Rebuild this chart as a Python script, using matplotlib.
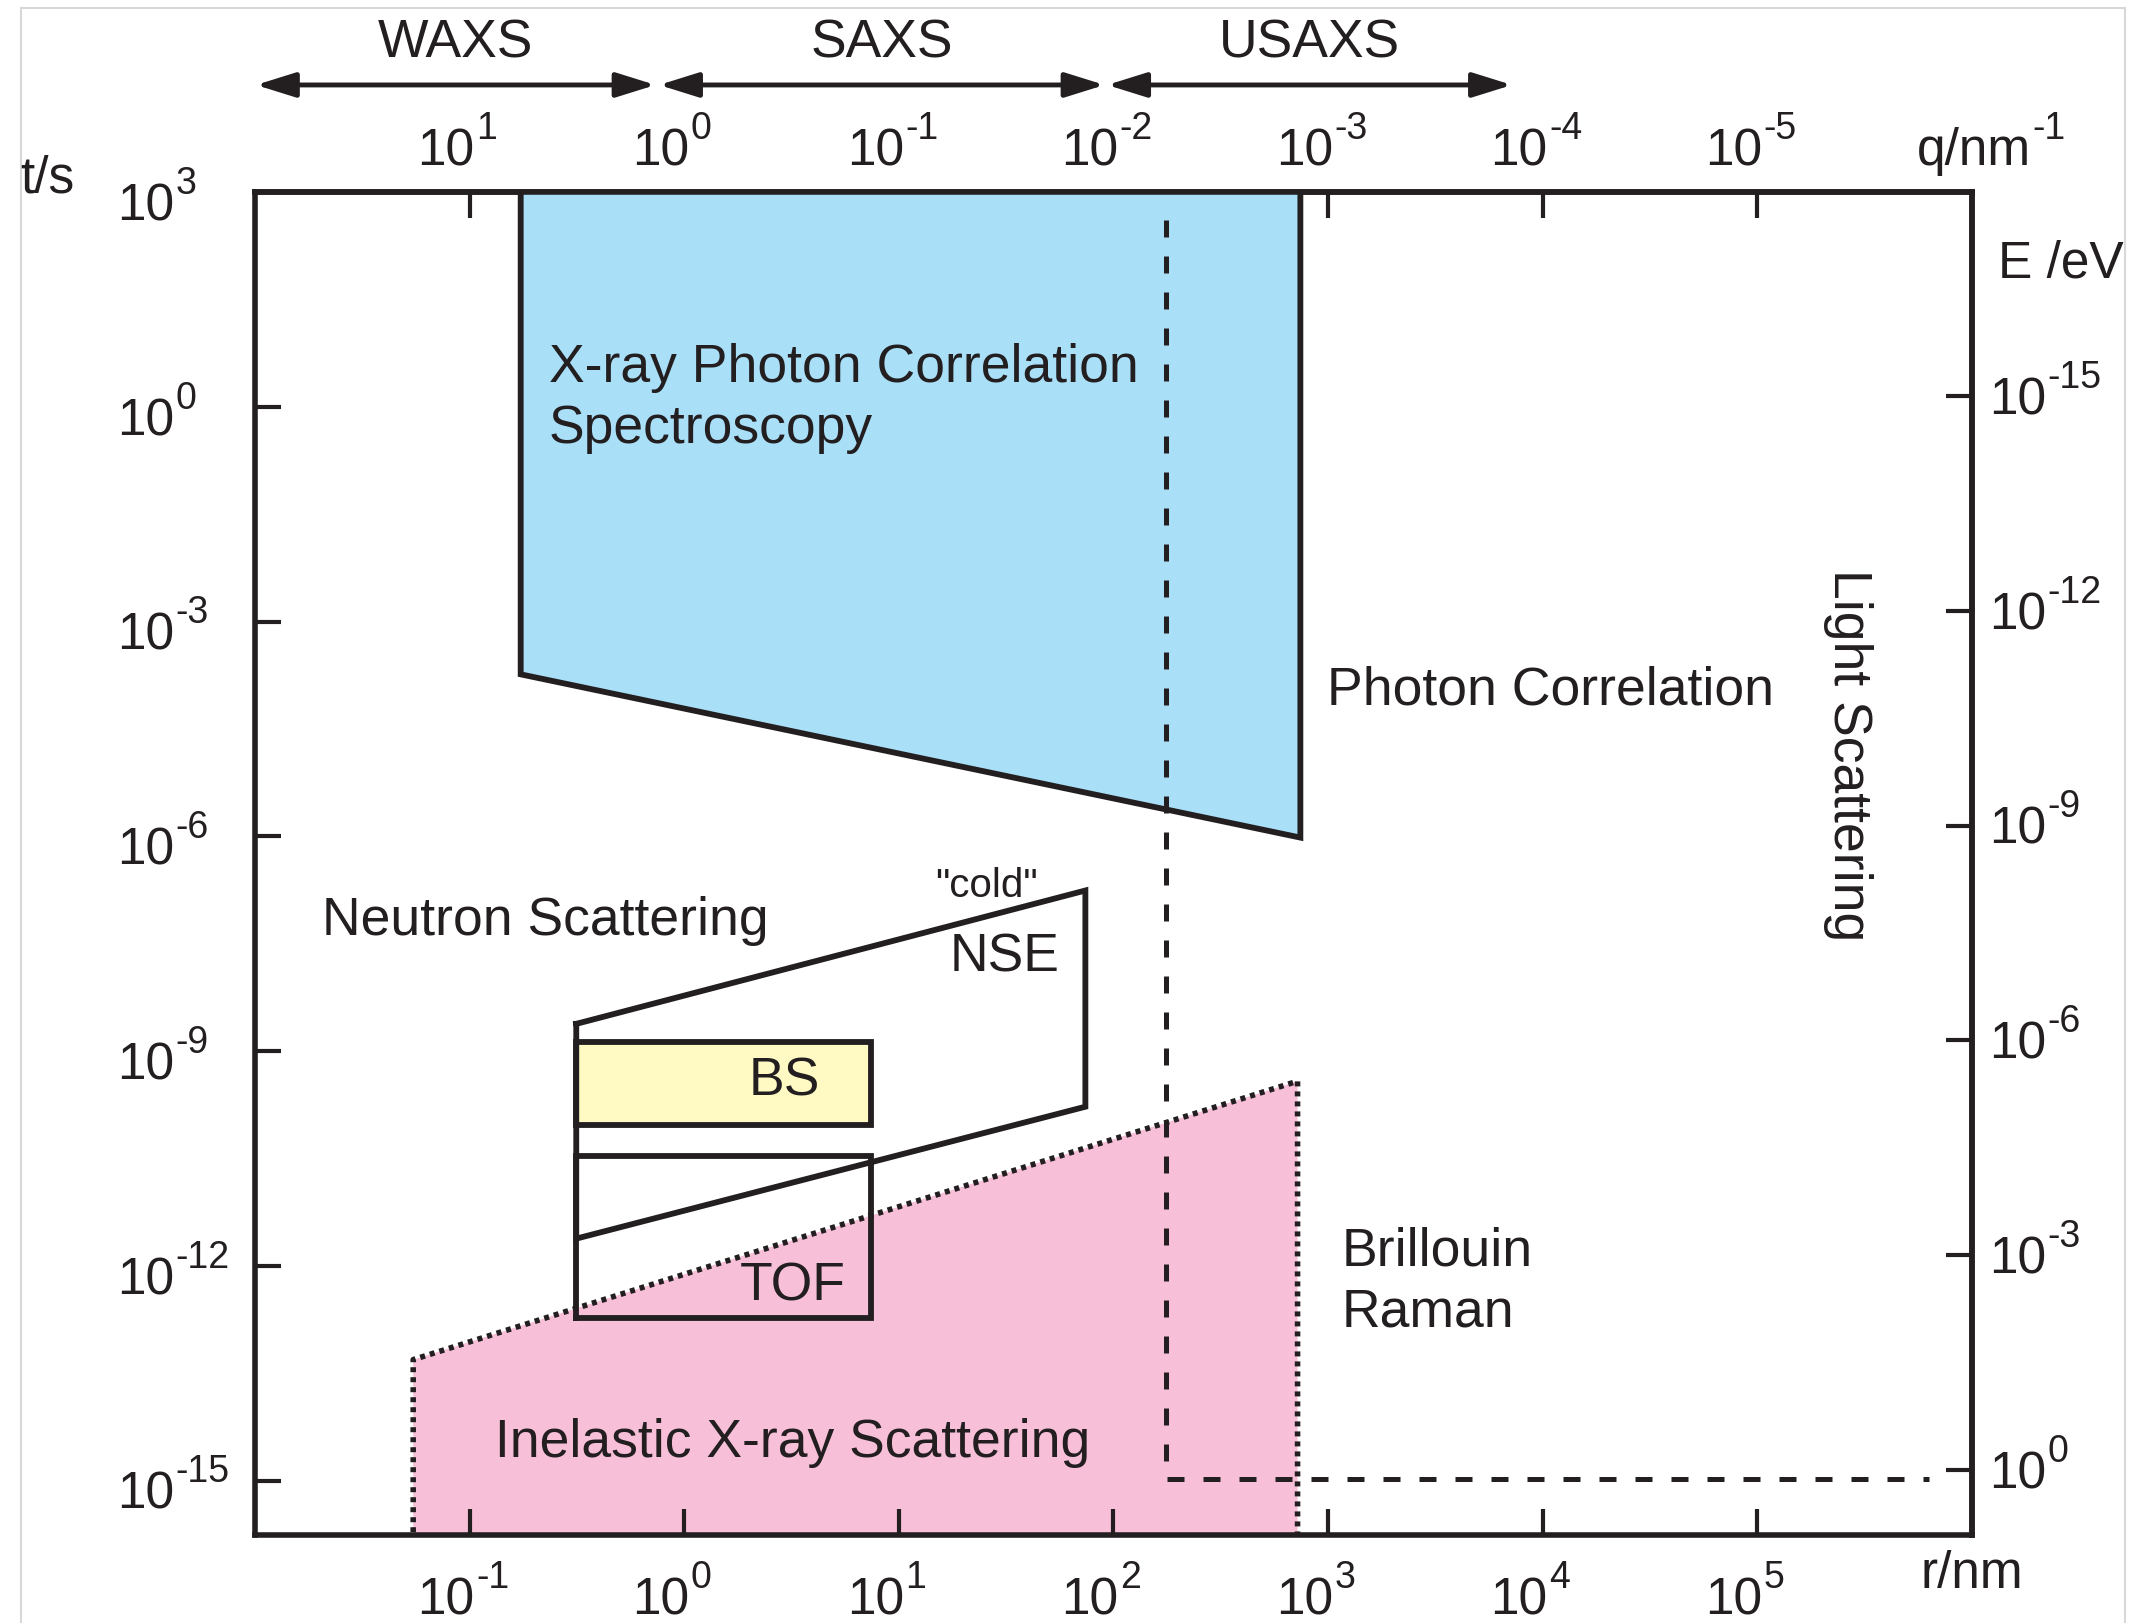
import numpy as np
import matplotlib
matplotlib.use('Agg')
import matplotlib.pyplot as plt
from matplotlib.lines import Line2D
from matplotlib.patches import ArrowStyle
from matplotlib.ticker import NullLocator

plt.rcParams['font.family'] = ['Liberation Sans', 'DejaVu Sans']

INK = '#231f20'
BLUE = '#aadff8'
PINK = '#f7c0d8'
YELLOW = '#fff9c4'

# axis ranges: r in nm, t in s
r_lim = (1e-2, 1e6)
t_lim = (10 ** -15.76, 1e3)
EV_S = 1.41e-15   # E*t used for the energy scale on the right

r_ticks = [1e-1, 1e0, 1e1, 1e2, 1e3, 1e4, 1e5]
q_ticks = [1e1, 1e0, 1e-1, 1e-2, 1e-3, 1e-4, 1e-5]
t_ticks = [1e3, 1e0, 1e-3, 1e-6, 1e-9, 1e-12, 1e-15]
E_ticks = [1e-15, 1e-12, 1e-9, 1e-6, 1e-3, 1e0]

# q ranges (nm^-1) of the x-ray techniques on top
xray_names = ['WAXS', 'SAXS', 'USAXS']
xray_q = [(99.0, 1.36), (1.31, 0.0110), (0.0107, 1.39e-4)]

# technique windows
xpcs_r = [0.173, 0.173, 743, 743]
xpcs_t = [1e3, 1.83e-4, 9.6e-7, 1e3]
ixs_r = [0.0546, 0.0546, 721, 721]
ixs_t = [1e-16, 4.9e-14, 3.8e-10, 1e-16]
nse_r = [0.314, 0.314, 74, 74, 0.314]
nse_t = [2.4e-9, 2.4e-12, 1.67e-10, 1.75e-7, 2.4e-9]
bs_r = [0.314, 7.45]
bs_t = [9.3e-11, 1.32e-9]
tof_r = [0.314, 7.45]
tof_t = [1.86e-13, 3.4e-11]
light_r = [175, 175, 6.3e5]
light_t = [407, 1.05e-15, 1.05e-15]


def reciprocal(x, k=1.0):
    x = np.array(x, float)
    out = np.full_like(x, np.inf)
    pos = x > 0
    out[pos] = k / x[pos]
    return out


def inverse(x):
    return reciprocal(x)


def t_to_E(t):
    return reciprocal(t, EV_S)


def box(r, t):
    return [r[0], r[1], r[1], r[0], r[0]], [t[0], t[0], t[1], t[1], t[0]]


def pow_label(ax, xy, coords, exp, offset, ha, size=37):
    # "10" plus a raised exponent written with a plain hyphen
    base = ax.annotate('10', xy=xy, xycoords=coords, xytext=offset,
                       textcoords='offset points', ha=ha, va='baseline',
                       fontsize=size, color=INK, annotation_clip=False)
    ax.annotate(exp, xy=(1, 0), xycoords=base, xytext=(1, 27),
                textcoords='offset points', ha='left', va='baseline',
                fontsize=27, color=INK, annotation_clip=False)


fig = plt.figure(figsize=(21.32, 16.23), dpi=100)
ax = fig.add_axes([0.1196, 0.0542, 0.8053, 0.8275])
ax.set_xscale('log')
ax.set_yscale('log')
ax.set_xlim(*r_lim)
ax.set_ylim(*t_lim)

# shaded windows
ax.fill(xpcs_r, xpcs_t, color=BLUE, lw=0, zorder=1)
ax.fill(ixs_r, ixs_t, color=PINK, lw=0, zorder=1)
bx, by = box(bs_r, bs_t)
ax.fill(bx, by, color=YELLOW, lw=0, zorder=2)

# outlines
solid = dict(color=INK, lw=4.2, zorder=3, solid_joinstyle='miter')
ax.plot(xpcs_r, xpcs_t, **solid)
ax.plot(nse_r, nse_t, **solid)
ax.plot(bx, by, **solid)
ax.plot(*box(tof_r, tof_t), **solid)
ax.plot(ixs_r, ixs_t, color=INK, lw=4, ls=(0, (0.9, 0.9)),
        dash_capstyle='butt', zorder=3)
ax.plot(light_r, light_t, color=INK, lw=3.6, ls=(0, (3.4, 3.8)),
        dash_capstyle='butt', zorder=4)

# region names
big = dict(fontsize=38.5, color=INK, zorder=5)
ax.text(0.234, 1.3, 'X-ray Photon Correlation\nSpectroscopy', ha='left',
        va='center', linespacing=1.27, **big)
ax.text(988, 1.09e-4, 'Photon Correlation', ha='left', va='center', **big)
ax.text(2.64e5, 1.37e-5, 'Light Scattering', ha='center', va='center',
        rotation=270, **big)
ax.text(0.0205, 6.6e-8, 'Neutron Scattering', ha='left', va='center', **big)
ax.text(25.6, 2.0e-7, '"cold"', ha='center', va='center', fontsize=29,
        color=INK)
ax.text(56, 2.0e-8, 'NSE', ha='right', va='center', **big)
ax.text(2.93, 3.8e-10, 'BS', ha='center', va='center', **big)
ax.text(3.21, 5.2e-13, 'TOF', ha='center', va='center', **big)
ax.text(1161, 6.0e-13, 'Brillouin\nRaman', ha='left', va='center',
        linespacing=1.27, **big)
ax.text(0.132, 3.4e-15, 'Inelastic X-ray Scattering', ha='left',
        va='center', **big)

# main axes ticks
for side in ['left', 'right', 'top', 'bottom']:
    ax.spines[side].set_linewidth(4)
    ax.spines[side].set_color(INK)
ax.set_xticks(r_ticks)
ax.set_yticks(t_ticks)
ax.xaxis.set_minor_locator(NullLocator())
ax.yaxis.set_minor_locator(NullLocator())
ax.tick_params(direction='in', length=19, width=3, color=INK,
               labelbottom=False, labelleft=False, top=False, right=False)

sec_top = ax.secondary_xaxis('top', functions=(inverse, inverse))
sec_top.set_xticks(q_ticks)
sec_top.xaxis.set_minor_locator(NullLocator())
sec_top.tick_params(direction='in', length=19, width=3, color=INK,
                    labeltop=False)
sec_right = ax.secondary_yaxis('right', functions=(t_to_E, t_to_E))
sec_right.set_yticks(E_ticks)
sec_right.yaxis.set_minor_locator(NullLocator())
sec_right.tick_params(direction='in', length=19, width=3, color=INK,
                      labelright=False)
for sec in (sec_top, sec_right):
    for sp in sec.spines.values():
        sp.set_linewidth(4)
        sp.set_color(INK)

# tick labels
for r in r_ticks:
    pow_label(ax, (r, 0), ('data', 'axes fraction'),
              str(int(round(np.log10(r)))), (3.6, -57.5), 'right')
for q in q_ticks:
    pow_label(ax, (1 / q, 1), ('data', 'axes fraction'),
              str(int(round(np.log10(q)))), (3.6, 18.8), 'right')
for t in t_ticks:
    pow_label(ax, (0, t), ('axes fraction', 'data'),
              str(int(round(np.log10(t)))), (-99.4, -20.4), 'left')
for E in E_ticks:
    pow_label(ax, (1, EV_S / E), ('axes fraction', 'data'),
              str(int(round(np.log10(E)))), (12.3, -13.2), 'left')

# axis names
lab = dict(fontsize=37, color=INK, va='baseline', ha='left')
fig.text(0.0094, 0.8811, 't/s', **lab)
fig.text(0.9371, 0.8293, 'E /eV', **lab)
fig.text(0.9006, 0.0216, 'r/nm', **lab)
qlab = ax.annotate('q/nm', xy=(0.8992, 0.8983), xycoords='figure fraction',
                   annotation_clip=False, **lab)
ax.annotate('-1', xy=(1, 0), xycoords=qlab, xytext=(1, 27),
            textcoords='offset points', ha='left', va='baseline',
            fontsize=27, color=INK, annotation_clip=False)

# x-ray technique ranges above the q axis
arrow = ArrowStyle('<|-|>', head_length=0.8, head_width=0.25)
for name, (q0, q1) in zip(xray_names, xray_q):
    ax.annotate('', xy=(1 / q1, 1.0797), xytext=(1 / q0, 1.0797),
                xycoords=('data', 'axes fraction'),
                textcoords=('data', 'axes fraction'),
                arrowprops=dict(arrowstyle=arrow, color=INK, lw=3.5,
                                mutation_scale=30, shrinkA=0, shrinkB=0),
                annotation_clip=False)
    ax.annotate(name, xy=(1 / np.sqrt(q0 * q1), 1.0998),
                xycoords=('data', 'axes fraction'), ha='center',
                va='baseline', fontsize=38.5, color=INK,
                annotation_clip=False)

# thin frame around the page
frame = [([0.0099, 0.0099], [0.0, 0.995]),
         ([0.0099, 0.9967], [0.995, 0.995]),
         ([0.9967, 0.9967], [0.995, 0.0])]
for xs, ys in frame:
    fig.add_artist(Line2D(xs, ys, transform=fig.transFigure,
                          color='#d8d8d8', lw=1.5))

fig.savefig('out.png', dpi=100)
